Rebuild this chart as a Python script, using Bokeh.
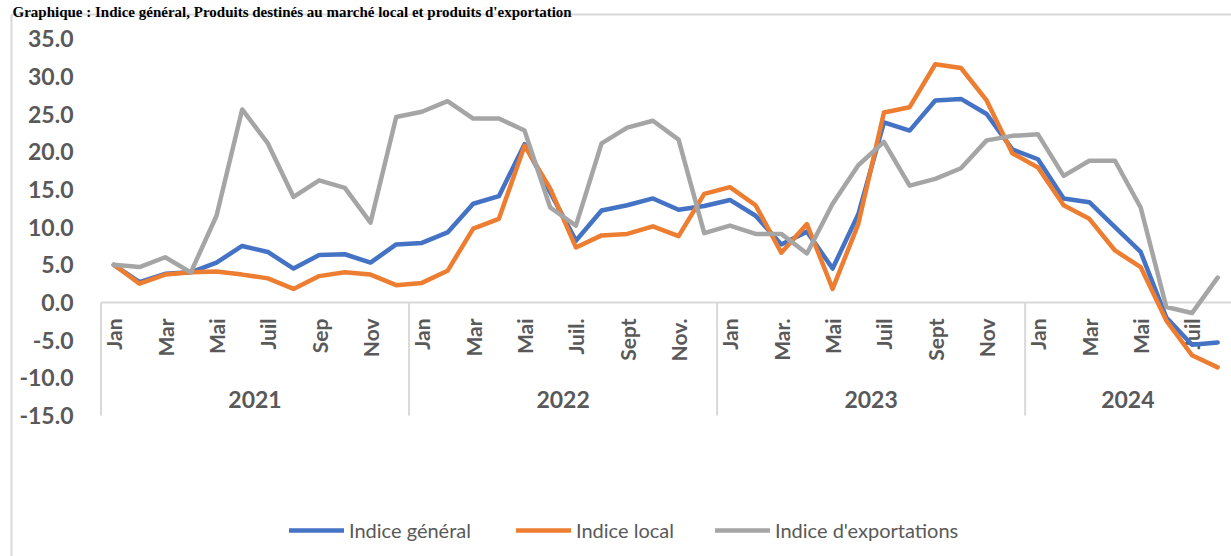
import math
from bokeh.plotting import figure
from bokeh.models import Range1d, Legend, LegendItem
from bokeh.core.properties import value
from bokeh.embed import file_html
from bokeh.resources import INLINE

# ---------------- data ----------------
title_text = "Graphique : Indice général, Produits destinés au marché local et produits d'exportation"
years = ["2021", "2022", "2023", "2024"]
months_per_year = [12, 12, 12, 8]
month_labels = [
    "Jan", "Fév", "Mar", "Avr", "Mai", "Juin", "Juil", "Août", "Sep", "Oct", "Nov", "Déc",
    "Jan", "Fév", "Mar", "Avr", "Mai", "Juin", "Juil.", "Août", "Sept", "Oct.", "Nov.", "Déc.",
    "Jan", "Fév.", "Mar.", "Avr.", "Mai", "Juin", "Juil", "Août", "Sept", "Oct", "Nov", "Déc",
    "Jan", "Fév", "Mar", "Avr", "Mai", "Juin", "Juil", "Août",
]
indice_general = [
    5.0, 2.7, 3.8, 4.0, 5.3, 7.5, 6.7, 4.5, 6.3, 6.4, 5.3, 7.7,
    7.9, 9.3, 13.1, 14.1, 21.0, 14.6, 8.2, 12.2, 12.9, 13.8, 12.3, 12.8,
    13.6, 11.5, 7.7, 9.4, 4.5, 11.7, 23.9, 22.8, 26.8, 27.0, 25.0, 20.3,
    19.0, 13.8, 13.3, 10.0, 6.7, -2.0, -5.6, -5.3,
]
indice_local = [
    5.0, 2.5, 3.7, 4.0, 4.1, 3.7, 3.2, 1.8, 3.5, 4.0, 3.7, 2.3,
    2.6, 4.2, 9.8, 11.1, 20.8, 15.1, 7.3, 8.9, 9.1, 10.1, 8.8, 14.4,
    15.3, 12.9, 6.6, 10.4, 1.8, 10.4, 25.2, 25.9, 31.6, 31.1, 26.8, 19.8,
    17.9, 12.9, 11.1, 6.9, 4.7, -2.4, -7.0, -8.6,
]
indice_export = [
    5.0, 4.7, 6.0, 4.0, 11.5, 25.6, 21.1, 14.0, 16.2, 15.2, 10.6, 24.6,
    25.3, 26.7, 24.4, 24.4, 22.8, 12.6, 10.2, 21.1, 23.2, 24.1, 21.6, 9.2,
    10.2, 9.1, 9.1, 6.5, 13.1, 18.2, 21.3, 15.5, 16.4, 17.8, 21.5, 22.1,
    22.3, 16.8, 18.8, 18.8, 12.6, -0.6, -1.4, 3.3,
]
y_ticks = [35.0, 30.0, 25.0, 20.0, 15.0, 10.0, 5.0, 0.0, -5.0, -10.0, -15.0]
series_names = ["Indice général", "Indice local", "Indice d'exportations"]
series_colors = ["#4472C4", "#ED7D31", "#A5A5A5"]

# ---------------- layout (canvas pixels) ----------------
W, H = 1231, 556
AXIS_X0 = 100.5     # left edge of first category
AXIS_X1 = 1230.0    # right edge of last category
Y0_PX = 302.0       # pixel row of value 0
PX_PER_UNIT = 7.54
BORDER_X, BORDER_Y = 11, 14

n = len(month_labels)
px_cat = (AXIS_X1 - AXIS_X0) / n


def dx(px):
    return -0.5 + (px - AXIS_X0) / px_cat


def dy(py):
    return (Y0_PX - py) / PX_PER_UNIT


p = figure(width=W, height=H, x_range=Range1d(dx(0), dx(W)), y_range=Range1d(dy(H), dy(0)),
           x_axis_type=None, y_axis_type=None, toolbar_location=None, output_backend="svg",
           min_border=0, min_border_left=0, min_border_right=0, min_border_bottom=0,
           min_border_top=0)
p.outline_line_color = None
p.background_fill_color = "white"
p.border_fill_color = "white"

TXT = "#595959"
LINE_GRAY = "#D9D9D9"

# chart-area border (left and top)
p.segment(x0=[dx(BORDER_X), dx(BORDER_X)], y0=[dy(BORDER_Y), dy(BORDER_Y)],
          x1=[dx(BORDER_X), dx(W)], y1=[dy(H), dy(BORDER_Y)], line_color=LINE_GRAY, line_width=2)

# title
p.text(x=[dx(12)], y=[dy(11)], text=[title_text], text_align="left", text_baseline="alphabetic",
       text_font=value("Liberation Serif"), text_font_size="15px", text_font_style="bold",
       text_color="black")

# category axis (crossing at 0)
xs = list(range(n))
bounds = []
start = 0
for c in months_per_year:
    bounds.append(start - 0.5)
    start += c
p.segment(x0=[-0.5], y0=[0], x1=[dx(W)], y1=[0], line_color=LINE_GRAY, line_width=2)
p.segment(x0=bounds, y0=[0] * len(bounds), x1=bounds, y1=[min(y_ticks)] * len(bounds),
          line_color=LINE_GRAY, line_width=2)

shown = xs[::2]
p.text(x=shown, y=[0] * len(shown), text=[month_labels[i] for i in shown], angle=math.pi / 2,
       text_align="right", text_baseline="middle", y_offset=16,
       text_font=value("Lato"), text_font_size="21px", text_font_style="bold", text_color=TXT)

centers = []
start = 0
for c in months_per_year:
    centers.append(start + (c - 1) / 2)
    start += c
p.text(x=centers, y=[0] * len(centers), text=years, text_align="center", text_baseline="middle",
       y_offset=97, text_font=value("Lato"), text_font_size="23px", text_font_style="bold",
       text_color=TXT)

# value axis labels
p.text(x=[-0.5] * len(y_ticks), y=y_ticks, text=[f"{t:.1f}" for t in y_ticks], x_offset=-27.5,
       text_align="right", text_baseline="middle", text_font=value("Lato"),
       text_font_size="23px", text_font_style="bold", text_color=TXT)

# series
renderers = []
for vals, col in zip([indice_general, indice_local, indice_export], series_colors):
    r = p.line(xs, vals, line_color=col, line_width=4.5, line_join="round", line_cap="round")
    renderers.append(r)

legend_x = [289, 516, 715]
for name, r, lx in zip(series_names, renderers, legend_x):
    leg = Legend(items=[LegendItem(label=name, renderers=[r])], location=(lx, 14),
                 orientation="horizontal", glyph_width=55, glyph_height=20, label_standoff=5,
                 padding=0, margin=0, border_line_color=None, background_fill_alpha=0,
                 label_text_font="Lato", label_text_font_size="20px", label_text_color=TXT)
    p.add_layout(leg)

open("out.html", "w").write(file_html(p, INLINE))
